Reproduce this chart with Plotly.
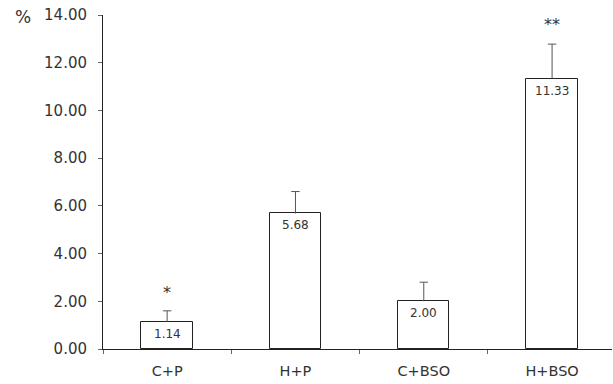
import plotly.graph_objects as go

# Group means (%) with upper SD whiskers
groups = ["C+P", "H+P", "C+BSO", "H+BSO"]
means = [1.14, 5.68, 2.00, 11.33]
upper_err = [0.46, 0.92, 0.80, 1.45]
significance = ["*", "", "", "**"]
star_levels = [2.38, None, None, 13.6]
y_ticks = [0, 2, 4, 6, 8, 10, 12, 14]

FONT = "DejaVu Sans, Verdana, sans-serif"
TEXT = "#333333"
WHISKER = "#555555"

fig = go.Figure()
fig.add_trace(go.Bar(
    x=groups,
    y=means,
    width=0.4,
    marker=dict(color="white", line=dict(color="#222222", width=1)),
    hoverinfo="skip",
))

# Whisker stems: from the bar top up to mean + error
stem_x, stem_y = [], []
for g, m, e in zip(groups, means, upper_err):
    stem_x += [g, g, None]
    stem_y += [m, m + e, None]
fig.add_trace(go.Scatter(
    x=stem_x, y=stem_y, mode="lines",
    line=dict(color=WHISKER, width=1),
    hoverinfo="skip",
))
# Whisker caps
fig.add_trace(go.Scatter(
    x=groups,
    y=[m + e for m, e in zip(means, upper_err)],
    mode="markers",
    marker=dict(symbol="line-ew", size=6, line=dict(color=WHISKER, width=1)),
    hoverinfo="skip",
))

annotations = []
# Value labels just inside the top of each bar
for g, m in zip(groups, means):
    annotations.append(dict(
        x=g, y=m, xref="x", yref="y", text=f"{m:.2f}",
        showarrow=False, yanchor="middle", yshift=-12,
        font=dict(family=FONT, size=12, color=TEXT),
    ))
# Significance markers
for g, s, lvl in zip(groups, significance, star_levels):
    if s:
        annotations.append(dict(
            x=g, y=lvl, xref="x", yref="y", text=s,
            showarrow=False, yanchor="middle",
            font=dict(family=FONT, size=16, color=TEXT),
        ))
# Unit label beside the top tick
annotations.append(dict(
    x=-0.157, y=0.994, xref="paper", yref="paper", text="%",
    showarrow=False, xanchor="center", yanchor="middle",
    font=dict(family=FONT, size=17, color=TEXT),
))

fig.update_layout(
    width=613,
    height=384,
    margin=dict(l=103, r=1, t=15, b=35),
    paper_bgcolor="white",
    plot_bgcolor="white",
    showlegend=False,
    bargap=0,
    annotations=annotations,
    font=dict(family=FONT, color=TEXT),
    xaxis=dict(
        type="category",
        range=[-0.5, 3.467],
        showline=True,
        linecolor="#222222",
        linewidth=1,
        ticks="outside",
        tickson="boundaries",
        ticklen=4,
        tickcolor="#666666",
        showgrid=False,
        ticklabelstandoff=9,
        tickfont=dict(family=FONT, size=14.5, color=TEXT),
    ),
    yaxis=dict(
        range=[0, 14],
        tickvals=y_ticks,
        tickformat=".2f",
        showline=True,
        linecolor="#222222",
        linewidth=1,
        ticks="outside",
        ticklen=4,
        tickcolor="#666666",
        showgrid=False,
        zeroline=False,
        ticklabelstandoff=8,
        tickfont=dict(family=FONT, size=15, color=TEXT),
    ),
)

fig.write_html("out.html")
